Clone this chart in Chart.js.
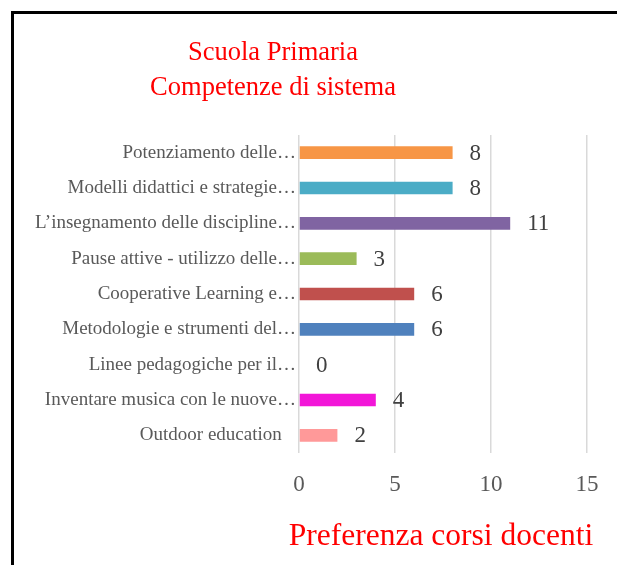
<!DOCTYPE html>
<html><head>
<meta charset="utf-8">
<script src="https://cdn.jsdelivr.net/npm/chart.js@4.4.1/dist/chart.umd.min.js"></script>
<style>
html,body{margin:0;padding:0;background:#fff;overflow:hidden;}
#frame{position:absolute;left:11px;top:11px;width:700px;height:700px;border-left:3px solid #000;border-top:3px solid #000;}
#wrap{position:absolute;left:0;top:0;width:617px;height:565px;}
</style></head><body>
<div id="frame"></div>
<div id="wrap"><canvas id="c" width="617" height="565"></canvas></div>
<script>
const titleLines = ["Scuola Primaria", "Competenze di sistema"];
const axisTitle = "Preferenza corsi docenti";
const categories = [
  "Potenziamento delle…",
  "Modelli didattici e strategie…",
  "L’insegnamento delle discipline…",
  "Pause attive - utilizzo delle…",
  "Cooperative Learning e…",
  "Metodologie e strumenti del…",
  "Linee pedagogiche per il…",
  "Inventare musica con le nuove…",
  "Outdoor education\u00a0\u00a0\u00a0"
];
const values = [8, 8, 11, 3, 6, 6, 0, 4, 2];
const barColors = ["#F79646", "#4BACC6", "#8064A2", "#9BBB59", "#C0504D", "#4F81BD", "#FF0000", "#F216D8", "#FF9999"];
const xTicks = [0, 5, 10, 15];

const SERIF = "'Liberation Serif', 'Times New Roman', serif";

const valueLabels = {
  id: 'valueLabels',
  afterDatasetsDraw(chart) {
    const ctx = chart.ctx;
    const meta = chart.getDatasetMeta(0);
    ctx.save();
    ctx.fillStyle = '#404040';
    ctx.font = '23px ' + SERIF;
    ctx.textAlign = 'left';
    ctx.textBaseline = 'middle';
    meta.data.forEach((el, i) => {
      ctx.fillText(String(values[i]), el.x + 17, el.y + 1);
    });
    ctx.restore();
  }
};

const texts = {
  id: 'texts',
  afterDraw(chart) {
    const ctx = chart.ctx;
    ctx.save();
    ctx.fillStyle = '#FF0000';
    ctx.textAlign = 'center';
    ctx.textBaseline = 'middle';
    ctx.font = '26.5px ' + SERIF;
    ctx.fillText(titleLines[0], 273, 53);
    ctx.fillText(titleLines[1], 273, 88);
    ctx.font = '31.5px ' + SERIF;
    const ca = chart.chartArea;
    ctx.fillText(axisTitle, (ca.left + ca.right) / 2 - 2, 537);
    ctx.restore();
  }
};

new Chart(document.getElementById('c'), {
  type: 'bar',
  data: {
    labels: categories,
    datasets: [{
      data: values,
      backgroundColor: barColors,
      borderWidth: 0,
      categoryPercentage: 0.4,
      barPercentage: 0.9
    }]
  },
  options: {
    indexAxis: 'y',
    responsive: false,
    animation: false,
    layout: { padding: { top: 135, right: 30, left: 0, bottom: 0 } },
    plugins: { legend: { display: false }, tooltip: { enabled: false }, title: { display: false } },
    scales: {
      x: {
        min: 0, max: 15,
        afterBuildTicks(scale) { scale.ticks = xTicks.map(v => ({ value: v })); },
        afterFit(scale) { scale.height = 112; },
        grid: { color: '#D9D9D9', lineWidth: 1.5, drawTicks: false },
        border: { display: false },
        ticks: { color: '#595959', font: { family: SERIF, size: 23 }, padding: 18 },
        title: { display: false }
      },
      y: {
        afterFit(scale) { scale.width = 299; },
        grid: { display: false, drawTicks: false },
        border: { display: false },
        ticks: { color: '#595959', font: { family: SERIF, size: 19 }, padding: 3, autoSkip: false }
      }
    }
  },
  plugins: [valueLabels, texts]
});
</script>
</body></html>
